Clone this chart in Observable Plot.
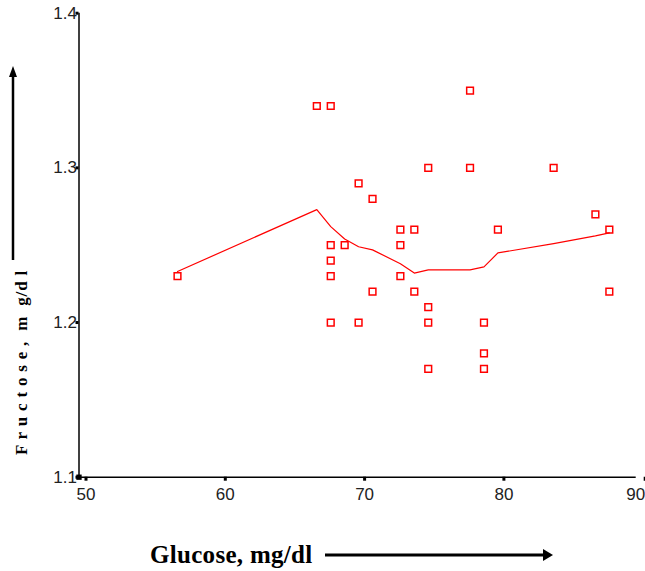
<!DOCTYPE html>
<html>
<head>
<meta charset="utf-8">
<script src="https://cdn.jsdelivr.net/npm/d3@7"></script>
<script src="https://cdn.jsdelivr.net/npm/@observablehq/plot@0.6"></script>
<style>
  html, body { margin: 0; padding: 0; background: #fff; }
  #chart svg { display: block; overflow: hidden; }
</style>
</head>
<body>
<div id="chart"></div>
<script>
// Scatter data: glucose (mg/dl) vs fructose (mg/dl)
const glucose  = [57, 67, 68, 68, 69, 68, 68, 68, 70, 71, 70, 71, 73, 74, 73, 73, 74, 75, 75, 75, 75, 78, 78, 79, 79, 79, 80, 84, 87, 88, 88];
const fructose = [1.23, 1.34, 1.34, 1.25, 1.25, 1.24, 1.23, 1.20, 1.29, 1.28, 1.20, 1.22, 1.26, 1.26, 1.25, 1.23, 1.22, 1.30, 1.21, 1.20, 1.17, 1.35, 1.30, 1.20, 1.18, 1.17, 1.26, 1.30, 1.27, 1.26, 1.22];

// Smoothed fit line
const fitX = [57, 67, 68, 69, 70, 71, 73, 74, 75, 78, 79, 80, 84, 87, 88];
const fitY = [1.233, 1.273, 1.262, 1.254, 1.249, 1.247, 1.238, 1.232, 1.234, 1.234, 1.236, 1.245, 1.251, 1.256, 1.258];

// Axes
const xTicks = [50, 60, 70, 80, 90];
const yTicks = [1.1, 1.2, 1.3, 1.4];
const xTitle = "Glucose, mg/dl";
const yTitle = "F r u c t o s e ,  m  g/d l";

const points = glucose.map((g, i) => ({x: g, y: fructose[i]}));
const fit = fitX.map((g, i) => ({x: g, y: fitY[i]}));
const xDomain = [xTicks[0], xTicks[xTicks.length - 1]];
const yDomain = [yTicks[0], yTicks[yTicks.length - 1]];

const W = 645, H = 571;
const plot = Plot.plot({
  width: W,
  height: H,
  marginLeft: 78.5,
  marginRight: 9.3,
  marginTop: 12.7,
  marginBottom: 94.3,
  style: {background: "#fff", fontFamily: "'Liberation Sans', Arial, sans-serif", fontSize: "16px", color: "#000"},
  x: {domain: xDomain, label: null},
  y: {domain: yDomain, label: null},
  marks: [
    Plot.axisX({ticks: xTicks.slice(0, -1), label: null, tickSize: 4, strokeWidth: 3, tickPadding: 7, dx: 7, fontSize: 17, tickFormat: d => String(d), fill: "#222"}),
    Plot.axisX({ticks: xTicks.slice(-1), label: null, tickSize: 4, strokeWidth: 3, tickPadding: 7, dx: 9, textAnchor: "end", fontSize: 17, tickFormat: d => String(d), fill: "#222"}),
    Plot.axisY({ticks: yTicks, label: null, tickSize: 3, strokeWidth: 3, tickPadding: -1, fontSize: 17, tickFormat: d => d.toFixed(1), fill: "#222"}),
    Plot.ruleX([xDomain[0]], {stroke: "#000", strokeWidth: 1.5}),
    Plot.ruleY([yDomain[0]], {stroke: "#000", strokeWidth: 1.5}),
    Plot.dot([{x: xDomain[0], y: yDomain[0]}], {x: "x", y: "y", symbol: "square", r: 3, fill: "#000"}),
    Plot.line(fit, {x: "x", y: "y", stroke: "#ff0000", strokeWidth: 1.2, dx: 1}),
    Plot.dot(points, {x: "x", y: "y", symbol: "square", r: 3.8, stroke: "#ff0000", strokeWidth: 1.5, fill: "none", dx: 1})
  ]
});
document.getElementById("chart").appendChild(plot);

// Axis titles and arrows
const svg = d3.select(plot);
svg.append("text")
  .attr("x", 150).attr("y", 563)
  .attr("text-anchor", "start")
  .attr("font-family", "'Liberation Serif', 'Times New Roman', serif")
  .attr("font-weight", "bold").attr("font-size", 25)
  .attr("letter-spacing", 0.3)
  .attr("fill", "#000")
  .text(xTitle);
svg.append("line").attr("x1", 325).attr("x2", 545).attr("y1", 555).attr("y2", 555)
  .attr("stroke", "#000").attr("stroke-width", 3);
svg.append("path").attr("d", "M543,549 L553,555 L543,561 Z").attr("fill", "#000");

svg.append("text")
  .attr("transform", "translate(27,455) rotate(-90)")
  .attr("text-anchor", "start")
  .attr("xml:space", "preserve")
  .attr("font-family", "'Liberation Serif', 'Times New Roman', serif")
  .attr("font-weight", "bold").attr("font-size", 17)
  .attr("letter-spacing", 0.8)
  .attr("fill", "#000")
  .style("white-space", "pre")
  .text(yTitle);
svg.append("line").attr("x1", 13).attr("x2", 13).attr("y1", 260).attr("y2", 74)
  .attr("stroke", "#000").attr("stroke-width", 2.5);
svg.append("path").attr("d", "M9,77 L13,66 L17,77 Z").attr("fill", "#000");
</script>
</body>
</html>
